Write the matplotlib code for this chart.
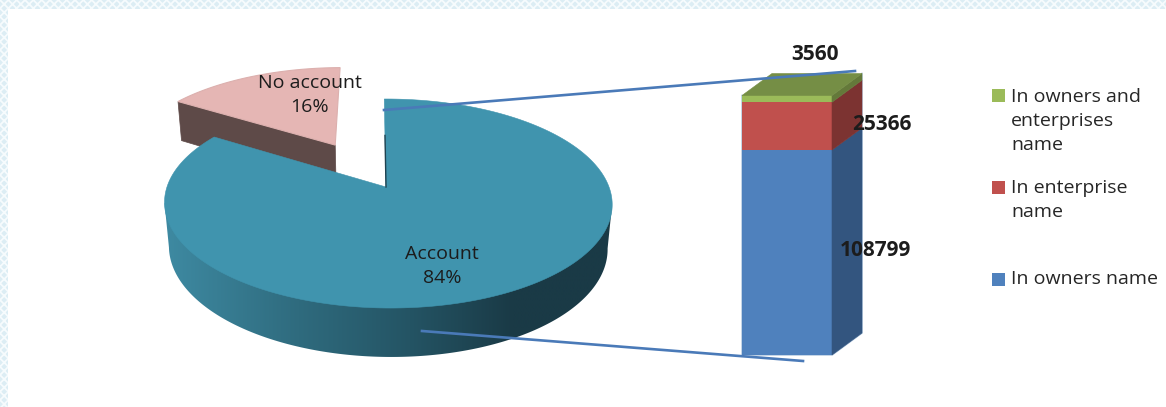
import numpy as np
import matplotlib
matplotlib.use("Agg")
import matplotlib.pyplot as plt
from matplotlib.colors import LinearSegmentedColormap
from matplotlib.patches import Polygon, Rectangle

# --- Data ---
pie_labels = ["Account", "No account"]
pie_shares = [84, 16]
stack_values = [108799, 25366, 3560]
legend_text = ["In owners and\nenterprises\nname", "In enterprise\nname", "In owners name"]

# --- Colours ---
TEAL = "#4094ae"
PINK = "#e5b6b4"
BROWN = "#5e4a48"
LINK = "#4a7ab8"
INK = "#1c1c1c"
front_cols = ["#4f81bd", "#c0504d", "#9bbb59"]
side_cols = ["#33557f", "#7c3331", "#64793a"]
TOP_COL = "#758e45"
rim_cmap = LinearSegmentedColormap.from_list(
    "rim", [(0, "#3e8aa2"), (0.3, "#2f6b7e"), (0.55, "#245464"), (0.78, "#1a3a46"), (1, "#1a3a46")])

plt.rcParams['font.family'] = ['Open Sans', 'DejaVu Sans']
plt.rcParams['hatch.linewidth'] = 1.3

fig = plt.figure(figsize=(11.66, 4.07), dpi=100)
ax = fig.add_axes([0, 0, 1, 1])
ax.axis('off')

# --- Page border ---
for box in [(0, 0, 1166, 9), (0, 0, 8, 407)]:
    ax.add_patch(Rectangle(box[:2], box[2], box[3], facecolor="#dcedf4", edgecolor="#f6fbfd", hatch="xxxx", linewidth=0))


# --- Pie camera: unit circle on the pie plane to picture pixels ---
def project(X, Y, z=0.0):
    w = 1 + 0.158 * Y - 0.009 * X + 0.02 * z
    return 386 + (221 * X - 2 * Y) / w, 187 - (101.9 * Y - 44.6 * z) / w


def arc(t0, t1, n=200):
    t = np.radians(np.linspace(t0, t1, n))
    return np.cos(t), np.sin(t)


def poly(X, Y, z, **kw):
    x, y = project(X, Y, z)
    p = Polygon(np.column_stack([x, y]), closed=True, **kw)
    ax.add_patch(p)
    return p


split = 90 - 360 * pie_shares[0] / 100  # clockwise from 12 o'clock
mid = np.radians(90 + 360 * pie_shares[1] / 200)
ex, ey = 0.503 * np.cos(mid), 0.503 * np.sin(mid)  # exploded slice offset

# exploded slice: wall first, then its face
end = np.radians(split)
wx = np.array([ex, ex + np.cos(end), ex + np.cos(end), ex])
wy = np.array([ey, ey + np.sin(end), ey + np.sin(end), ey])
poly(wx, wy, np.array([0, 0, 1, 1]), facecolor=BROWN, edgecolor=BROWN, linewidth=0.5, zorder=2)
cx, cy = arc(90, split + 360)
poly(np.r_[ex, ex + cx], np.r_[ey, ey + cy], 0, facecolor=PINK, edgecolor="#dcb0ae", linewidth=0.8, zorder=3)

# main slice: rim is a horizontal gradient clipped to the visible wall
# outline runs along the lower arc between the two side tangents of the top face
rx, ry = arc(189, 351, 300)
rim = poly(np.r_[rx[0], rx, rx[-1]], np.r_[ry[0], ry, ry[-1]], np.r_[0, np.ones(300), 0],
           facecolor="none", edgecolor="none", zorder=4)
grad = ax.imshow(np.linspace(0, 1, 256)[None, :], cmap=rim_cmap, aspect='auto',
                 extent=(164, 612, 407, 0), interpolation='bilinear', zorder=4)
grad.set_clip_path(rim)

# top face of main slice
cx, cy = arc(90, split, 400)
poly(np.r_[0, cx], np.r_[0, cy], 0, facecolor=TEAL, edgecolor=TEAL, linewidth=0.4, zorder=5)
lx, ly = project(np.array([0, 0]), np.array([0, 0.55]))
ax.plot(lx, ly, color="#1f4250", linewidth=1, zorder=6)

# --- Stacked column, values to pixels ---
base_y = 355
px_per_unit = 205 / stack_values[0]
bar_left, bar_w = 742, 90
dx, dy = 30, -22
bottom = 0
for val, fc, sc in zip(stack_values, front_cols, side_cols):
    y0 = base_y - bottom * px_per_unit
    y1 = base_y - (bottom + val) * px_per_unit
    ax.bar(bar_left + bar_w / 2, y1 - y0, width=bar_w, bottom=y0, color=fc, linewidth=0, zorder=3)
    ax.add_patch(Polygon([(bar_left + bar_w, y0), (bar_left + bar_w + dx, y0 + dy),
                          (bar_left + bar_w + dx, y1 + dy), (bar_left + bar_w, y1)],
                         closed=True, facecolor=sc, edgecolor=sc, linewidth=0.4, zorder=3))
    bottom += val
top_y = base_y - bottom * px_per_unit
ax.add_patch(Polygon([(bar_left, top_y), (bar_left + bar_w, top_y),
                      (bar_left + bar_w + dx, top_y + dy), (bar_left + dx, top_y + dy)],
                     closed=True, facecolor=TOP_COL, edgecolor=TOP_COL, linewidth=0.4, zorder=3))
# soft light outline of the column
ax.plot([bar_left, bar_left, bar_left + bar_w, bar_left + bar_w + dx, bar_left + bar_w + dx],
        [top_y, base_y, base_y, base_y + dy, top_y + dy], color="#b9cde3", linewidth=1.2, zorder=2.9)

# --- Connector lines from pie to column ---
ax.plot([384, 855], [110, 71], color=LINK, linewidth=1.9, zorder=7)
ax.plot([422, 803], [331, 361], color=LINK, linewidth=1.9, zorder=7)

# --- Pie labels ---
ax.text(310, 95, f"{pie_labels[1]}\n{pie_shares[1]}%", ha='center', va='center', fontsize=14,
        color=INK, linespacing=1.45, zorder=8)
ax.text(442, 266, f"{pie_labels[0]}\n{pie_shares[0]}%", ha='center', va='center', fontsize=14,
        color=INK, linespacing=1.45, zorder=8)

# --- Column value labels ---
label_pos = [(875, 251), (882, 125), (815, 55)]
for val, (vx, vy) in zip(stack_values, label_pos):
    ax.text(vx, vy, str(val), ha='center', va='center', fontsize=15, fontweight='bold', color=INK, zorder=8)

# --- Legend ---
legend_y = [95, 187, 279]
legend_mid = [121, 200, 279]
for txt, fc, yy, yc in zip(legend_text, front_cols[::-1], legend_y, legend_mid):
    ax.add_patch(Rectangle((992, yy - 6), 13, 13, facecolor=fc, edgecolor="none", zorder=3))
    ax.text(1011, yc, txt, ha='left', va='center', fontsize=14, color="#262626", linespacing=1.4, zorder=8)

ax.set_xlim(0, 1166)
ax.set_ylim(407, 0)
fig.savefig("out.png", dpi=100)
